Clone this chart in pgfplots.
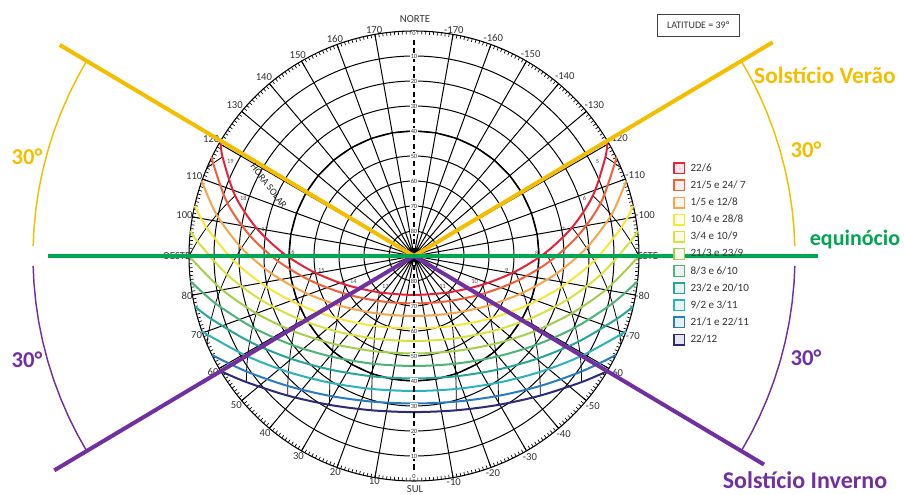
\documentclass[border=0pt]{standalone}
\usepackage{fontspec}
\setmainfont{Carlito}
\usepackage{pgfplots}
\pgfplotsset{compat=1.18}
\usepgfplotslibrary{polar}
\definecolor{c1}{HTML}{E5243B}
\definecolor{c2}{HTML}{F0603A}
\definecolor{c3}{HTML}{F5A64B}
\definecolor{c4}{HTML}{F7E73B}
\definecolor{c5}{HTML}{D7E23E}
\definecolor{c6}{HTML}{A4CE4B}
\definecolor{c7}{HTML}{4DB377}
\definecolor{c8}{HTML}{27A596}
\definecolor{c9}{HTML}{2CB3B8}
\definecolor{c10}{HTML}{2A7CC1}
\definecolor{c11}{HTML}{2E2A76}
\definecolor{gold}{HTML}{F4BE00}
\definecolor{purp}{HTML}{7030A0}
\definecolor{eqg}{HTML}{00A651}
\definecolor{lab}{HTML}{333333}
\tikzset{alt/.style={fill=white, inner sep=0.5pt, font=\fontsize{4.8}{5}\selectfont, text=lab},
  hr/.style={inner sep=0pt, font=\fontsize{4.8}{5}\selectfont, text=black!70}}
\pgfplotsset{hl/.style={black, line width=0.6pt, smooth, forget plot},
  sp/.style={line width=1.5pt, smooth, forget plot}}
\begin{document}
\begin{tikzpicture}
\begin{polaraxis}[
  scale only axis, width=337.5pt, height=337.5pt,
  xmin=0, xmax=360, ymin=0, ymax=90,
  clip=false, no markers,
  xtick={0,10,20,30,40,50,60,70,80,100,110,120,130,140,150,160,170,180,190,200,210,220,230,240,250,260,280,290,300,310,320,330,340,350},
  xticklabels={ESTE,-100,-110,-120,-130,-140,-150,-160,-170,170,160,150,140,130,120,110,100,OESTE,80,70,60,50,40,30,20,10,-10,-20,-30,-40,-50,-60,-70,-80},
  minor xtick={0,1,...,359},
  ytick={10,20,30,40,50,60,70,80}, yticklabels={}, ytick style={draw=none},
  xmajorgrids, ymajorgrids,
  major grid style={black, line width=0.75pt},
  axis line style={black, line width=0.8pt},
  tick align=outside,
  major tick length=4.5pt, minor tick length=2.5pt,
  xtick style={black, line width=0.5pt},
  minor tick style={black, line width=0.4pt},
  xticklabel style={font=\fontsize{8}{9}\selectfont, text=lab},
  legend style={at={(axis description cs:1.0756,0.7089)}, anchor=north west, draw=none, fill=none, inner sep=0pt,
    font=\fontsize{8.3}{9}\selectfont, text=lab, row sep=3.85pt,
    nodes={inner sep=0.5pt, text height=6pt, text depth=1.5pt},
    /tikz/every odd column/.append style={column sep=3.5pt}},
  legend cell align=left,
  legend image code/.code={\draw[#1] (0pt,-4pt) rectangle (8pt,4pt);},
]
\coordinate (C) at (axis cs:0,0);
\addplot[black, line width=1.0pt, forget plot] coordinates {(0,50) (10,50) (20,50) (30,50) (40,50) (50,50) (60,50) (70,50) (80,50) (90,50) (100,50) (110,50) (120,50) (130,50) (140,50) (150,50) (160,50) (170,50) (180,50) (190,50) (200,50) (210,50) (220,50) (230,50) (240,50) (250,50) (260,50) (270,50) (280,50) (290,50) (300,50) (310,50) (320,50) (330,50) (340,50) (350,50) (360,50)};
\addplot[hl] coordinates {(226.31,20.10) (231.47,22.99) (237.08,27.38) (241.20,31.95) (244.39,36.62) (246.94,41.35) (249.05,46.14) (250.84,50.95) (252.40,55.79) (253.80,60.65) (254.68,64.00)};
\addplot[hl] coordinates {(313.69,20.10) (308.53,22.99) (302.92,27.38) (298.80,31.95) (295.61,36.62) (293.06,41.35) (290.95,46.14) (289.16,50.95) (287.60,55.79) (286.20,60.65) (285.32,64.00)};
\addplot[hl] coordinates {(202.60,29.79) (207.67,32.04) (213.96,35.61) (219.21,39.46) (223.65,43.50) (227.47,47.70) (230.80,52.00) (233.75,56.39) (236.42,60.84) (238.87,65.34) (240.45,68.46)};
\addplot[hl] coordinates {(337.40,29.79) (332.33,32.04) (326.04,35.61) (320.79,39.46) (316.35,43.50) (312.53,47.70) (309.20,52.00) (306.25,56.39) (303.58,60.84) (301.13,65.34) (299.55,68.46)};
\addplot[hl] coordinates {(188.69,41.02) (192.93,42.98) (198.51,46.08) (203.53,49.42) (208.07,52.97) (212.19,56.67) (215.96,60.49) (219.46,64.41) (222.73,68.41) (225.83,72.47) (227.88,75.29)};
\addplot[hl] coordinates {(351.31,41.02) (347.07,42.98) (341.49,46.08) (336.47,49.42) (331.93,52.97) (327.81,56.67) (324.04,60.49) (320.54,64.41) (317.27,68.41) (314.17,72.47) (312.12,75.29)};
\addplot[hl] coordinates {(178.53,52.64) (182.10,54.52) (187.00,57.44) (191.59,60.53) (195.90,63.77) (199.97,67.13) (203.84,70.60) (207.55,74.13) (211.12,77.73) (214.60,81.38) (216.96,83.90)};
\addplot[hl] coordinates {(1.47,52.64) (357.90,54.52) (353.00,57.44) (348.41,60.53) (344.10,63.77) (340.03,67.13) (336.16,70.60) (332.45,74.13) (328.88,77.73) (325.40,81.38) (323.04,83.90)};
\addplot[hl] coordinates {(169.79,64.22) (172.92,66.16) (177.31,69.07) (181.53,72.10) (185.61,75.21) (189.57,78.40) (193.44,81.63) (197.25,84.90) (201.02,88.20) (203.06,90)};
\addplot[hl] coordinates {(10.21,64.22) (7.08,66.16) (2.69,69.07) (358.47,72.10) (354.39,75.21) (350.43,78.40) (346.56,81.63) (342.75,84.90) (338.98,88.20) (336.94,90)};
\addplot[hl] coordinates {(161.38,75.50) (164.21,77.57) (168.24,80.63) (172.20,83.73) (176.11,86.86) (180,90)};
\addplot[hl] coordinates {(18.62,75.50) (15.79,77.57) (11.76,80.63) (7.80,83.73) (3.89,86.86) (0,90)};
\addplot[hl] coordinates {(152.64,86.23) (155.22,88.5) (156.94,90)};
\addplot[hl] coordinates {(27.36,86.23) (24.78,88.5) (23.06,90)};
\addplot[sp, c1] coordinates {(30.79,90) (27.36,86.23) (18.62,75.50) (10.21,64.22) (1.47,52.64) (351.31,41.02) (337.40,29.79) (313.69,20.10) (270,15.56) (226.31,20.10) (202.60,29.79) (188.69,41.02) (178.53,52.64) (169.79,64.22) (161.38,75.50) (152.64,86.23) (149.21,90)};
\addplot[sp, c2] coordinates {(26.11,90) (24.78,88.5) (15.79,77.57) (7.08,66.16) (357.90,54.52) (347.07,42.98) (332.33,32.04) (308.53,22.99) (270,19) (231.47,22.99) (207.67,32.04) (192.93,42.98) (182.10,54.52) (172.92,66.16) (164.21,77.57) (155.22,88.5) (153.89,90)};
\addplot[sp, c3] coordinates {(19.45,90) (11.76,80.63) (2.69,69.07) (353.00,57.44) (341.49,46.08) (326.04,35.61) (302.92,27.38) (270,24) (237.08,27.38) (213.96,35.61) (198.51,46.08) (187.00,57.44) (177.31,69.07) (168.24,80.63) (160.55,90)};
\addplot[sp, c4] coordinates {(12.91,90) (7.80,83.73) (358.47,72.10) (348.41,60.53) (336.47,49.42) (320.79,39.46) (298.80,31.95) (270,29) (241.20,31.95) (219.21,39.46) (203.53,49.42) (191.59,60.53) (181.53,72.10) (172.20,83.73) (167.09,90)};
\addplot[sp, c5] coordinates {(6.44,90) (3.89,86.86) (354.39,75.21) (344.10,63.77) (331.93,52.97) (316.35,43.50) (295.61,36.62) (270,34) (244.39,36.62) (223.65,43.50) (208.07,52.97) (195.90,63.77) (185.61,75.21) (176.11,86.86) (173.56,90)};
\addplot[sp, c6] coordinates {(360,90) (350.43,78.40) (340.03,67.13) (327.81,56.67) (312.53,47.70) (293.06,41.35) (270,39) (246.94,41.35) (227.47,47.70) (212.19,56.67) (199.97,67.13) (189.57,78.40) (180,90)};
\addplot[sp, c7] coordinates {(353.56,90) (346.56,81.63) (336.16,70.60) (324.04,60.49) (309.20,52.00) (290.95,46.14) (270,44) (249.05,46.14) (230.80,52.00) (215.96,60.49) (203.84,70.60) (193.44,81.63) (186.44,90)};
\addplot[sp, c8] coordinates {(347.09,90) (342.75,84.90) (332.45,74.13) (320.54,64.41) (306.25,56.39) (289.16,50.95) (270,49) (250.84,50.95) (233.75,56.39) (219.46,64.41) (207.55,74.13) (197.25,84.90) (192.91,90)};
\addplot[sp, c9] coordinates {(340.55,90) (338.98,88.20) (328.88,77.73) (317.27,68.41) (303.58,60.84) (287.60,55.79) (270,54) (252.40,55.79) (236.42,60.84) (222.73,68.41) (211.12,77.73) (201.02,88.20) (199.45,90)};
\addplot[sp, c10] coordinates {(333.89,90) (325.40,81.38) (314.17,72.47) (301.13,65.34) (286.20,60.65) (270,59) (253.80,60.65) (238.87,65.34) (225.83,72.47) (214.60,81.38) (206.11,90)};
\addplot[sp, c11] coordinates {(329.21,90) (323.04,83.90) (312.12,75.29) (299.55,68.46) (285.32,64.00) (270,62.44) (254.68,64.00) (240.45,68.46) (227.88,75.29) (216.96,83.90) (210.79,90)};
\addplot[black, line width=0.8pt, dash pattern=on 4pt off 2.5pt, forget plot] coordinates {(90,90) (270,90)};
\node[alt] at (axis cs:90,89) {0};
\node[alt] at (axis cs:90,80) {10};
\node[alt] at (axis cs:90,70) {20};
\node[alt] at (axis cs:90,60) {30};
\node[alt] at (axis cs:90,50) {40};
\node[alt] at (axis cs:90,40) {50};
\node[alt] at (axis cs:90,30) {60};
\node[alt] at (axis cs:90,20) {70};
\node[alt] at (axis cs:90,10) {80};
\node[alt] at (axis cs:270,88) {0};
\node[alt] at (axis cs:270,80) {10};
\node[alt] at (axis cs:270,70) {20};
\node[alt] at (axis cs:270,60) {30};
\node[alt] at (axis cs:270,50) {40};
\node[alt] at (axis cs:270,40) {50};
\node[alt] at (axis cs:270,30) {60};
\node[alt] at (axis cs:270,20) {70};
\node[alt] at (axis cs:270,10) {80};
\node[hr] at (axis cs:226.31,16.6) {13};
\node[hr] at (axis cs:202.60,26.3) {14};
\node[hr] at (axis cs:188.69,37.5) {15};
\node[hr] at (axis cs:178.53,49.1) {16};
\node[hr] at (axis cs:169.79,60.7) {17};
\node[hr] at (axis cs:161.38,72.0) {18};
\node[hr] at (axis cs:152.64,82.7) {19};
\node[hr] at (axis cs:313.69,16.6) {11};
\node[hr] at (axis cs:337.40,26.3) {10};
\node[hr] at (axis cs:351.31,37.5) {9};
\node[hr] at (axis cs:1.47,49.1) {8};
\node[hr] at (axis cs:10.21,60.7) {7};
\node[hr] at (axis cs:18.62,72.0) {6};
\node[hr] at (axis cs:27.36,82.7) {5};
\addplot[gold, line width=3pt, forget plot] coordinates {(0,0) (149.21,165)};
\addplot[gold, line width=3pt, forget plot] coordinates {(0,0) (30.79,167)};
\addplot[purp, line width=3pt, forget plot] coordinates {(0,0) (210.79,167.5)};
\addplot[purp, line width=3pt, forget plot] coordinates {(0,0) (329.21,163)};
\addplot[gold, line width=1.1pt, forget plot] coordinates {(149.21,152.4) (152,152.4) (155,152.4) (158,152.4) (161,152.4) (164,152.4) (167,152.4) (170,152.4) (173,152.4) (176,152.4) (178.5,152.4)};
\addplot[gold, line width=1.1pt, forget plot] coordinates {(1.5,152.4) (4,152.4) (7,152.4) (10,152.4) (13,152.4) (16,152.4) (19,152.4) (22,152.4) (25,152.4) (28,152.4) (30.79,152.4)};
\addplot[purp, line width=1.1pt, forget plot] coordinates {(181.5,152.4) (184,152.4) (187,152.4) (190,152.4) (193,152.4) (196,152.4) (199,152.4) (202,152.4) (205,152.4) (208,152.4) (210.79,152.4)};
\addplot[purp, line width=1.1pt, forget plot] coordinates {(329.21,152.4) (332,152.4) (335,152.4) (338,152.4) (341,152.4) (344,152.4) (347,152.4) (350,152.4) (353,152.4) (356,152.4) (358.5,152.4)};
\addplot[eqg, line width=3pt, forget plot] coordinates {(180,146.4) (0,161.6)};
\addlegendimage{draw=c1, fill=c1!12, line width=1pt}\addlegendentry{22/6}
\addlegendimage{draw=c2, fill=c2!12, line width=1pt}\addlegendentry{21/5 e 24/ 7}
\addlegendimage{draw=c3, fill=c3!12, line width=1pt}\addlegendentry{1/5 e 12/8}
\addlegendimage{draw=c4, fill=c4!12, line width=1pt}\addlegendentry{10/4 e 28/8}
\addlegendimage{draw=c5, fill=c5!12, line width=1pt}\addlegendentry{3/4 e 10/9}
\addlegendimage{draw=c6, fill=c6!12, line width=1pt}\addlegendentry{21/3 e 23/9}
\addlegendimage{draw=c7, fill=c7!12, line width=1pt}\addlegendentry{8/3 e 6/10}
\addlegendimage{draw=c8, fill=c8!12, line width=1pt}\addlegendentry{23/2 e 20/10}
\addlegendimage{draw=c9, fill=c9!12, line width=1pt}\addlegendentry{9/2 e 3/11}
\addlegendimage{draw=c10, fill=c10!12, line width=1pt}\addlegendentry{21/1 e 22/11}
\addlegendimage{draw=c11, fill=c11!12, line width=1pt}\addlegendentry{22/12}
\end{polaraxis}
\pgfresetboundingbox
\path[use as bounding box] ([shift={(-310.5pt,-179.25pt)}]C) rectangle ([shift={(367.5pt,192pt)}]C);
\node[anchor=south, inner sep=0pt, font=\fontsize{8}{9}\selectfont, text=lab] at ([shift={(0.75pt,175pt)}]C) {NORTE};
\node[anchor=north, inner sep=0pt, font=\fontsize{8}{9}\selectfont, text=lab] at ([shift={(0.75pt,-172pt)}]C) {SUL};
\node[rotate=-53, inner sep=0pt, font=\fontsize{7.5}{9}\selectfont, text=black!85] at ([shift={(-109pt,52.5pt)}]C) {HORA SOLAR};
\node[draw=black!75, line width=0.6pt, minimum width=62pt, minimum height=17pt, inner sep=1pt, font=\fontsize{7.5}{8}\selectfont, text=lab] at ([shift={(213.4pt,172.9pt)}]C) {LATITUDE = 39º};
\node[anchor=base, inner sep=0pt, font=\bfseries\fontsize{17.5}{18}\selectfont, text=gold] at ([shift={(308.25pt,129pt)}]C) {Solstício Verão};
\node[anchor=base, inner sep=0pt, font=\bfseries\fontsize{18}{19}\selectfont, text=purp] at ([shift={(293.25pt,-174.5pt)}]C) {Solstício Inverno};
\node[anchor=base, inner sep=0pt, font=\bfseries\fontsize{16.5}{17}\selectfont, text=eqg] at ([shift={(330.75pt,7.5pt)}]C) {equinócio};
\node[anchor=base, inner sep=0pt, font=\bfseries\fontsize{17}{18}\selectfont, text=gold] at ([shift={(-290.25pt,68.25pt)}]C) {30°};
\node[anchor=base, inner sep=0pt, font=\bfseries\fontsize{17}{18}\selectfont, text=purp] at ([shift={(-290.25pt,-84pt)}]C) {30°};
\node[anchor=base, inner sep=0pt, font=\bfseries\fontsize{17}{18}\selectfont, text=gold] at ([shift={(294pt,73.5pt)}]C) {30°};
\node[anchor=base, inner sep=0pt, font=\bfseries\fontsize{17}{18}\selectfont, text=purp] at ([shift={(294pt,-82.5pt)}]C) {30°};
\end{tikzpicture}
\end{document}
